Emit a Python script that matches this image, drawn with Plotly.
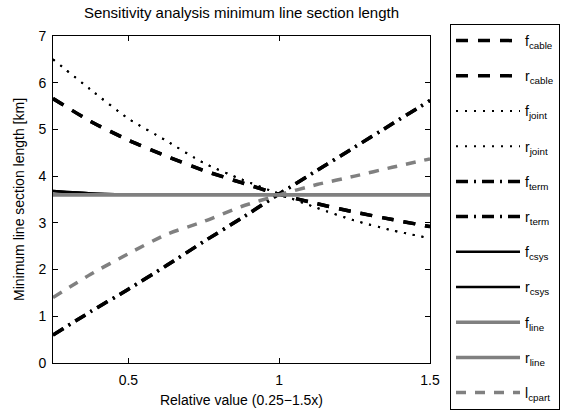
import plotly.graph_objects as go

# Relative value grid
x_rel = [0.25, 0.375, 0.5, 0.625, 0.75, 0.875, 1.0, 1.125, 1.25, 1.375, 1.5]

f_cable = [5.66, 5.17, 4.77, 4.43, 4.12, 3.86, 3.61, 3.41, 3.23, 3.07, 2.92]
r_cable = [5.66, 5.17, 4.77, 4.43, 4.12, 3.86, 3.61, 3.41, 3.23, 3.07, 2.92]
f_joint = [6.50, 5.85, 5.23, 4.76, 4.28, 3.93, 3.62, 3.32, 3.05, 2.84, 2.67]
r_joint = [6.50, 5.85, 5.23, 4.76, 4.28, 3.93, 3.62, 3.32, 3.05, 2.84, 2.67]
f_term = [0.60, 1.10, 1.58, 2.08, 2.60, 3.10, 3.62, 4.12, 4.62, 5.12, 5.62]
r_term = [0.60, 1.10, 1.58, 2.08, 2.60, 3.10, 3.62, 4.12, 4.62, 5.12, 5.62]
f_csys = [3.68, 3.63, 3.61, 3.60, 3.60, 3.60, 3.60, 3.60, 3.60, 3.60, 3.60]
r_csys = [3.68, 3.63, 3.61, 3.60, 3.60, 3.60, 3.60, 3.60, 3.60, 3.60, 3.60]
f_line = [3.60, 3.60, 3.60, 3.60, 3.60, 3.60, 3.60, 3.60, 3.60, 3.60, 3.60]
r_line = [3.60, 3.60, 3.60, 3.60, 3.60, 3.60, 3.60, 3.60, 3.60, 3.60, 3.60]
l_cpart = [1.40, 1.90, 2.34, 2.75, 3.03, 3.35, 3.60, 3.82, 4.00, 4.19, 4.37]

x_ticks = [0.5, 1, 1.5]
x_ticklabels = ["0.5", "1", "1.5"]
y_ticks = [0, 1, 2, 3, 4, 5, 6, 7]

BLACK = "#000000"
GRAY = "#808080"
DASH = "12px,10px"
DOT = "2px,7px"
DASHDOT = "12px,6px,2px,6px"
GDASH = "10px,9px"

series = [
    ("f<sub>cable</sub>", f_cable, BLACK, 3.5, DASH),
    ("r<sub>cable</sub>", r_cable, BLACK, 3.5, DASH),
    ("f<sub>joint</sub>", f_joint, BLACK, 2, DOT),
    ("r<sub>joint</sub>", r_joint, BLACK, 2, DOT),
    ("f<sub>term</sub>", f_term, BLACK, 3.5, DASHDOT),
    ("r<sub>term</sub>", r_term, BLACK, 3.5, DASHDOT),
    ("f<sub>csys</sub>", f_csys, BLACK, 2.5, "solid"),
    ("r<sub>csys</sub>", r_csys, BLACK, 2.5, "solid"),
    ("f<sub>line</sub>", f_line, GRAY, 3.5, "solid"),
    ("r<sub>line</sub>", r_line, GRAY, 3.5, "solid"),
    ("l<sub>cpart</sub>", l_cpart, GRAY, 3.5, GDASH),
]

fig = go.Figure()
for i, (name, ys, col, w, dash) in enumerate(series):
    fig.add_trace(go.Scatter(
        x=x_rel, y=ys, mode="lines", name=name, legendgroup=f"g{i}",
        line=dict(color=col, width=w, dash=dash, shape="spline", smoothing=0.6),
    ))

FONT = "Liberation Sans, Arial, sans-serif"
axis_common = dict(
    showline=True, linecolor="black", linewidth=1, mirror="ticks",
    ticks="inside", ticklen=5, tickcolor="black", tickwidth=1,
    showgrid=False, zeroline=False,
    tickfont=dict(family=FONT, size=14, color="black"),
)

fig.update_layout(
    width=564, height=413,
    margin=dict(l=53, r=134, t=36, b=50, pad=0, autoexpand=False),
    paper_bgcolor="white", plot_bgcolor="white",
    font=dict(family=FONT, size=14, color="black"),
    title=dict(text="Sensitivity analysis minimum line section length",
               x=0.5, xref="paper", xanchor="center",
               y=1 - 13 / 413, yref="container", yanchor="middle",
               font=dict(family=FONT, size=15, color="black")),
    xaxis=dict(range=[0.25, 1.5], tickvals=x_ticks, ticktext=x_ticklabels,
               ticklabelstandoff=4,
               title=dict(text="Relative value (0.25\u22121.5x)", standoff=8,
                          font=dict(family=FONT, size=14)),
               **axis_common),
    yaxis=dict(range=[0, 7], tickvals=y_ticks, ticklabelstandoff=3,
               title=dict(text="Minimum line section length [km]", standoff=10,
                          font=dict(family=FONT, size=14)),
               **axis_common),
    legend=dict(x=(450 - 53) / 377, xanchor="left", y=(363 - 24) / 327, yanchor="top",
                bordercolor="black", borderwidth=1, bgcolor="white",
                traceorder="grouped", tracegroupgap=14, itemwidth=64,
                maxheight=420,
                font=dict(family=FONT, size=14, color="black")),
    showlegend=True,
)

fig.write_html("out.html")
